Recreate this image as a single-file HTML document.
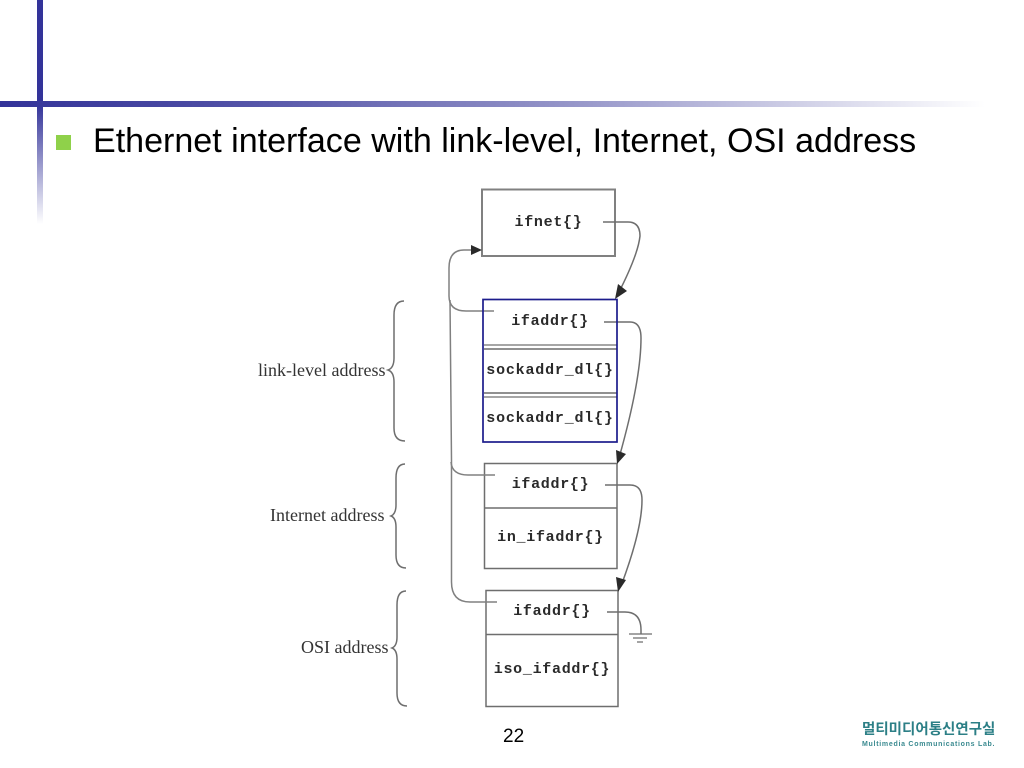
<!DOCTYPE html>
<html>
<head>
<meta charset="utf-8">
<style>
html,body{margin:0;padding:0;background:#fff;}
#s{position:relative;width:1024px;height:768px;overflow:hidden;background:#fff;}
.a{position:absolute;}
.t{position:absolute;white-space:nowrap;line-height:1;}
.m{font-family:"Liberation Mono",monospace;font-weight:bold;font-size:15px;letter-spacing:.7px;color:#2a2a2a;text-align:center;}
.l{font-family:"Liberation Serif",serif;font-size:18px;color:#333;}
</style>
</head>
<body>
<div id="s">
<div class="a" style="left:37px;top:0;width:6px;height:104px;background:#333399"></div>
<div class="a" style="left:37px;top:104px;width:6px;height:120px;background:linear-gradient(to bottom,#333399,#ffffff)"></div>
<div class="a" style="left:0;top:101px;width:985px;height:6px;background:linear-gradient(to right,#333399 0%,#4a4aa3 20%,#9a9acb 60%,#ffffff 100%)"></div>
<div class="a" style="left:56px;top:135px;width:15px;height:15px;background:#8fd14a"></div>
<div class="t" style="left:93px;top:124px;font-family:'Liberation Sans',sans-serif;font-size:34.05px;color:#000">Ethernet interface with link-level, Internet, OSI address</div>

<svg class="a" style="left:0;top:0" width="1024" height="768" viewBox="0 0 1024 768">
<g fill="none" stroke="#6e6e6e" stroke-width="1.5">
<rect x="482" y="189.5" width="133" height="66.5" stroke-width="2" stroke="#808080"/>
<path d="M484 349H617M484 393H617" stroke-width="1.8" stroke="#808080"/>
<path d="M484 345H617M484 397H617" stroke-width="1.8" stroke="#999"/>
<rect x="484.5" y="463.5" width="132.5" height="105"/>
<path d="M484.5 508H617"/>
<rect x="486" y="590.5" width="132" height="116"/>
<path d="M486 634.5H618"/>
<!-- left return -->
<path d="M475 250H464Q449 250 449 268V296Q449 311 466 311H494" stroke="#808080"/>
<path d="M450 300L451.5 460V582Q451.5 602 470 602H497" stroke="#808080"/>
<path d="M451 462Q452 475 468 475H495" stroke="#808080"/>
<!-- right connectors -->
<path d="M603 222H628Q640 222 640 236Q638 255 618 294"/>
<path d="M604 322H630Q641 322 641 338Q641 380 619 458"/>
<path d="M605 485H630Q642 485 642 500Q642 530 621 586"/>
<path d="M607 612H625Q641 612 641 630V634"/>
<!-- ground -->
<path d="M629 634H652M633 638H647M637 642H643" stroke-width="1.2"/>
<!-- braces -->
<path d="M404 301Q394 301 394 315V358Q394 368 388 370Q394 372 394 382V428Q394 441 405 441"/>
<path d="M405 464Q396 464 396 478V505Q396 514 391 516Q396 518 396 527V555Q396 568 406 568"/>
<path d="M406 591Q397 591 397 605V637Q397 646 392 648Q397 650 397 659V693Q397 706 407 706"/>
</g>
<rect x="483" y="299.5" width="134" height="142.5" fill="none" stroke="#1c1c8c" stroke-width="1.7"/>
<g fill="#2a2a2a">
<path d="M482 250L471 245V255Z"/>
<path d="M615 299L627 291L618 284Z"/>
<path d="M617 464L626 454L616 450Z"/>
<path d="M618 592L626 580L616 577Z"/>
</g>
</svg>

<div class="t m" style="left:482px;width:133px;top:215px">ifnet{}</div>
<div class="t m" style="left:483px;width:134px;top:314px">ifaddr{}</div>
<div class="t m" style="left:483px;width:134px;top:363px;letter-spacing:.8px">sockaddr_dl{}</div>
<div class="t m" style="left:483px;width:134px;top:411px;letter-spacing:.8px">sockaddr_dl{}</div>
<div class="t m" style="left:484px;width:133px;top:477px">ifaddr{}</div>
<div class="t m" style="left:484px;width:133px;top:530px">in_ifaddr{}</div>
<div class="t m" style="left:486px;width:132px;top:604px">ifaddr{}</div>
<div class="t m" style="left:486px;width:132px;top:662px">iso_ifaddr{}</div>

<div class="t l" style="left:258px;top:361px">link-level address</div>
<div class="t l" style="left:270px;top:506px">Internet address</div>
<div class="t l" style="left:301px;top:638px">OSI address</div>

<div class="t" style="left:503px;top:727px;font-family:'Liberation Sans',sans-serif;font-size:19px;color:#000">22</div>
<div class="t" style="left:862px;top:723px;font-family:'Liberation Sans','Noto Sans CJK KR',sans-serif;font-weight:bold;font-size:14.5px;color:#2c7f86">멀티미디어통신연구실</div>
<div class="t" style="left:862px;top:741px;font-family:'Liberation Sans',sans-serif;font-weight:bold;font-size:7px;letter-spacing:.72px;color:#3a8a90">Multimedia Communications Lab.</div>
</div>
</body>
</html>
